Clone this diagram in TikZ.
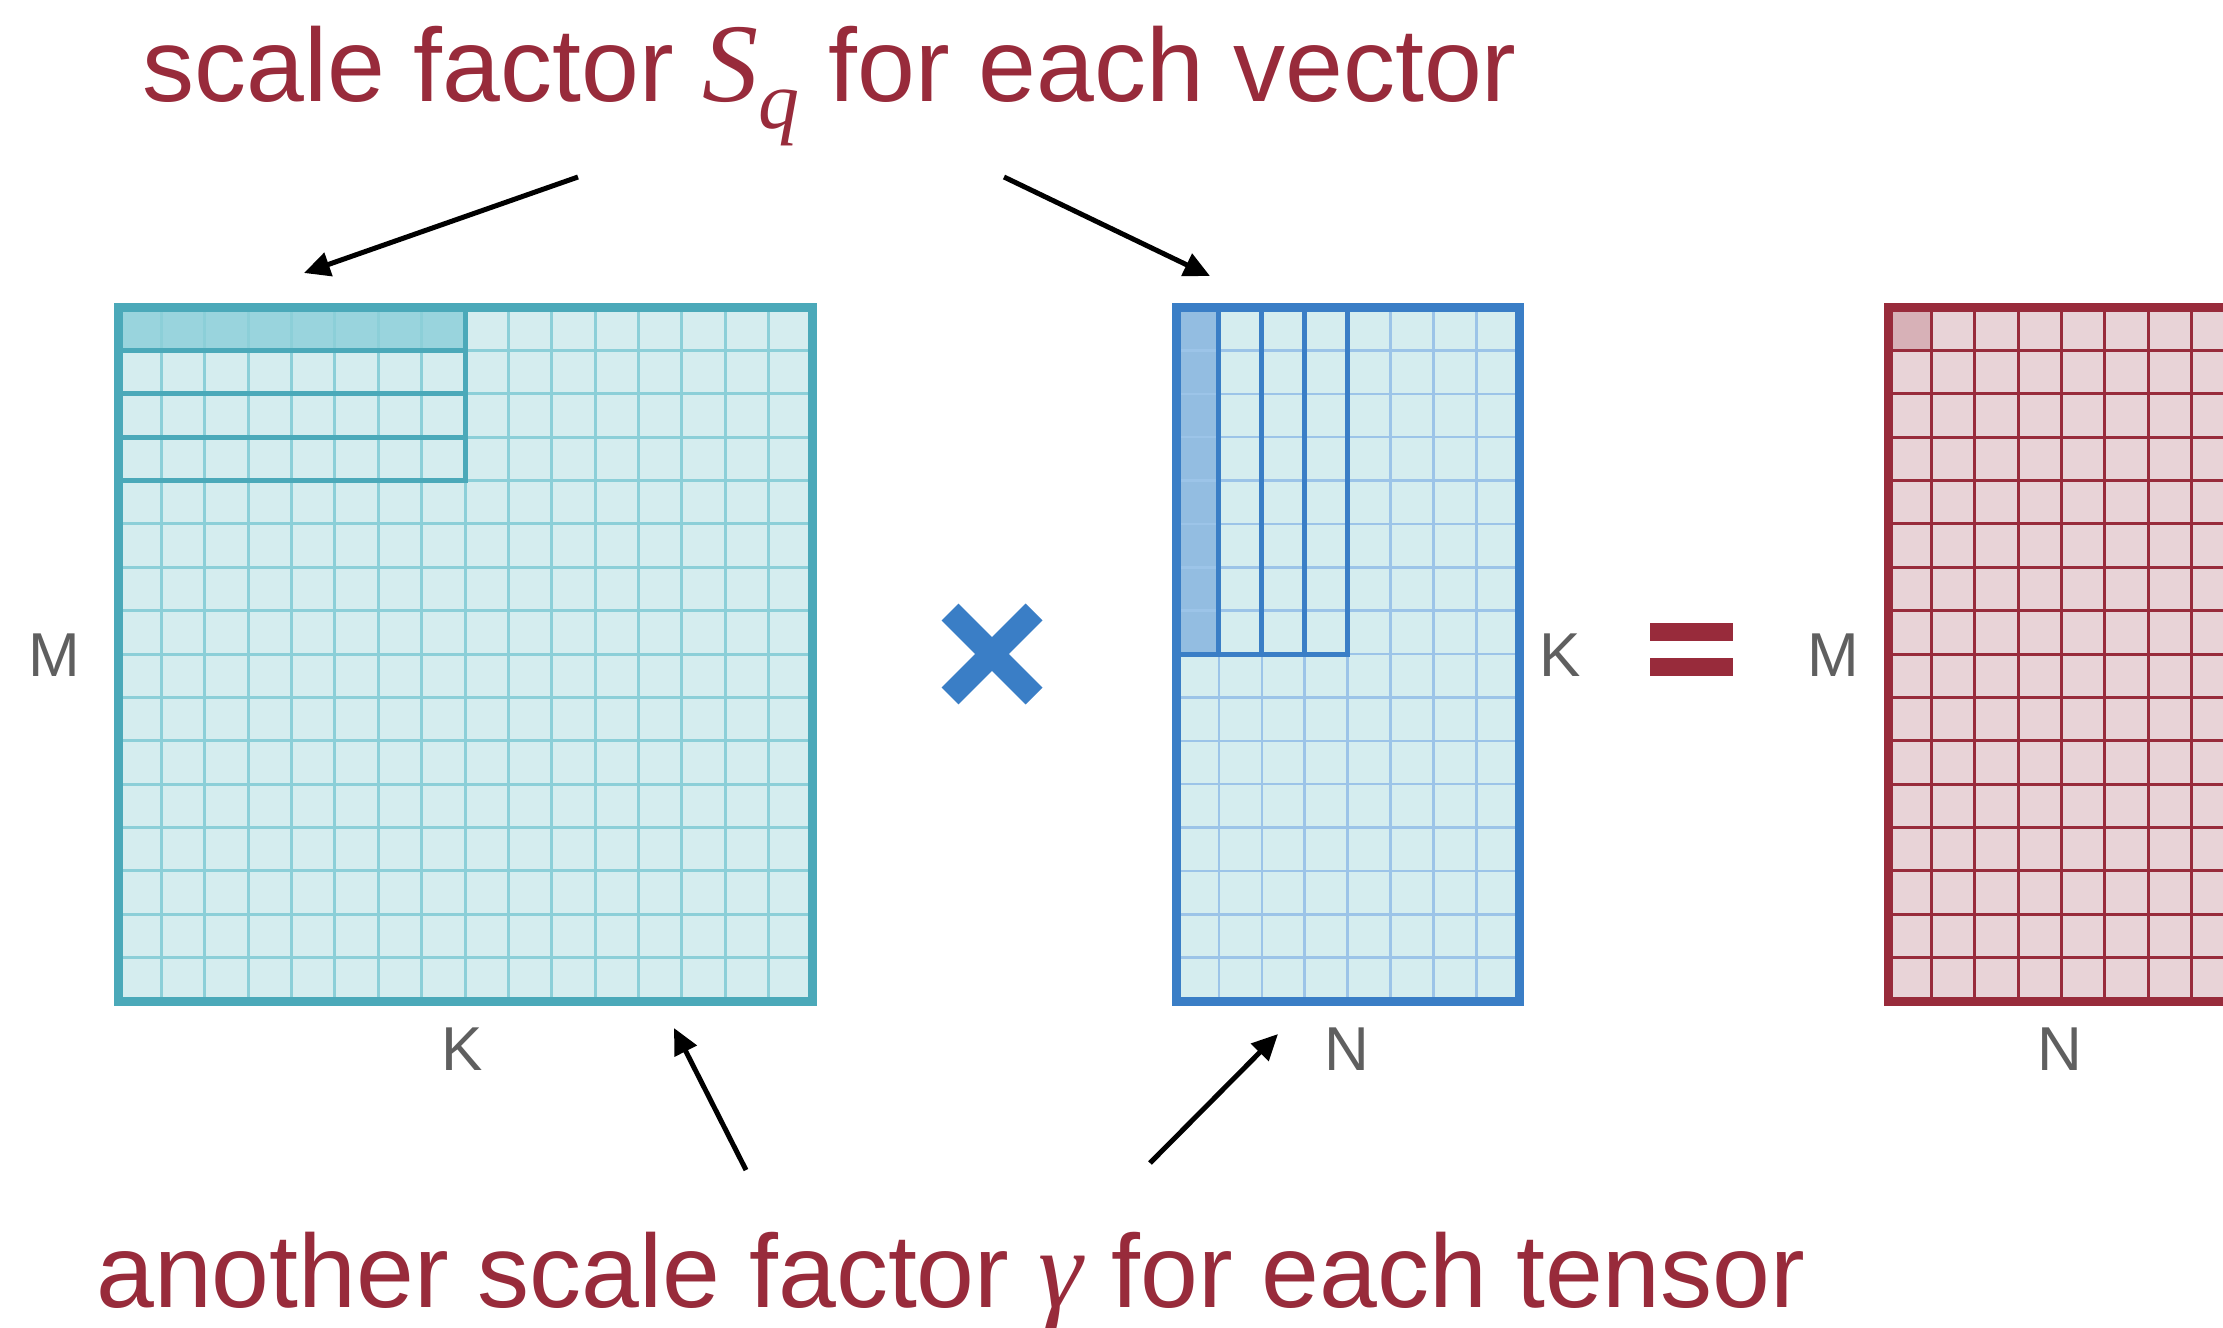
\documentclass[tikz,border=0pt]{standalone}
\usepackage{fontspec}
\setmainfont{Liberation Sans}
\newfontfamily\serifit{Liberation Serif}
\usetikzlibrary{arrows.meta}
\definecolor{tred}{HTML}{982B3B}
\definecolor{tgray}{HTML}{5F5F5F}
\definecolor{tealB}{HTML}{4BA9B9}
\definecolor{tealL}{HTML}{D5EDEF}
\definecolor{tealG}{HTML}{8CCFD8}
\definecolor{tealS}{HTML}{99D4DD}
\definecolor{blueB}{HTML}{3A7EC6}
\definecolor{blueG}{HTML}{9CC4E8}
\definecolor{blueS}{HTML}{93BDE1}
\definecolor{redL}{HTML}{E8D3D7}
\definecolor{redS}{HTML}{D7B1B7}
\tikzset{
  dimlabel/.style={text=tgray, inner sep=0pt, font=\fontsize{62}{62}\selectfont},
  titletext/.style={text=tred, inner sep=0pt, anchor=base west, font=\fontsize{104}{104}\selectfont},
  pointer/.style={line width=5pt, -{Triangle[length=26pt,width=24pt]}},
}
\begin{document}
\begin{tikzpicture}[x=1pt,y=-1pt]
\useasboundingbox (0,0) rectangle (2223,1327);
\clip (0,0) rectangle (2223,1327);
\fill[white] (0,0) rectangle (2223,1327);

% ---- left matrix (M x K) ----
\def\cw{43.375}
\fill[tealL] (118,307) rectangle (812,1001);
\fill[tealS] (118,307) rectangle (118+8*\cw,307+\cw);
\foreach \i in {1,...,15}{
  \draw[tealG,line width=3pt] (118+\i*\cw,307) -- ++(0,694);
  \draw[tealG,line width=3pt] (118,307+\i*\cw) -- ++(694,0);
}
\foreach \j in {0,...,3}{
  \draw[tealB,line width=5pt] (118,307+\j*\cw) rectangle ++(8*\cw,\cw);
}
\draw[tealB,line width=9pt] (118,307) rectangle (812,1001);

% ---- middle matrix (K x N) ----
\def\bw{42.9}
\fill[tealL] (1176,307) rectangle (1176+8*\bw,1001);
\fill[blueS] (1176,307) rectangle (1176+\bw,307+8*\cw);
\foreach \i in {1,...,7}{
  \draw[blueG,line width=2.5pt] (1176+\i*\bw,307) -- (1176+\i*\bw,1001);
}
\foreach \i in {1,...,15}{
  \draw[blueG,line width=2.5pt] (1176,307+\i*\cw) -- ++(8*\bw,0);
}
\foreach \j in {0,...,3}{
  \draw[blueB,line width=5pt] (1176+\j*\bw,307) rectangle ++(\bw,8*\cw);
}
\draw[blueB,line width=9pt] (1176,307) rectangle (1176+8*\bw,1001);

% ---- right matrix (M x N) ----
\fill[redL] (1888,307) rectangle (1888+8*\cw,1001);
\fill[redS] (1888,307) rectangle ++(\cw,\cw);
\foreach \i in {1,...,7}{
  \draw[tred,line width=3pt] (1888+\i*\cw,307) -- (1888+\i*\cw,1001);
}
\foreach \i in {1,...,15}{
  \draw[tred,line width=3pt] (1888,307+\i*\cw) -- ++(8*\cw,0);
}
\draw[tred,line width=9pt] (1888,307) rectangle (1888+8*\cw,1001);

% ---- operators ----
\draw[blueB,line width=24pt] (950,612) -- (1034,696);
\draw[blueB,line width=24pt] (950,696) -- (1034,612);
\fill[tred] (1650,623) rectangle (1733,641);
\fill[tred] (1650,658) rectangle (1733,676);

% ---- dimension labels ----
\node[dimlabel] (lM) at (54,655) {M};
\node[dimlabel] (lK) at (462,1049) {K};
\node[dimlabel] (mK) at (1560,655) {K};
\node[dimlabel] (mN) at (1347,1049) {N};
\node[dimlabel] (rM) at (1833,655) {M};
\node[dimlabel] (rN) at (2060,1049) {N};

% ---- titles ----
\node[titletext] (top) at (142,102) {scale factor {\fontsize{112}{112}\selectfont\serifit\itshape S}\raisebox{-27pt}{\fontsize{82}{82}\selectfont\serifit\itshape q} for each vector};
\node[titletext] (bot) at (96,1307) {another scale factor {\fontsize{112}{112}\selectfont\serifit\itshape\symbol{"03B3}} for each tensor};

% ---- pointers ----
\coordinate (t1s) at (578,177);
\coordinate (t1e) at (304,273);
\coordinate (t2s) at (1004,177);
\coordinate (t2e) at (1210,276);
\coordinate (b1s) at (746,1170);
\coordinate (b1e) at (674,1028);
\coordinate (b2s) at (1150,1163);
\coordinate (b2e) at (1278,1034);
\draw[pointer] (t1s) -- (t1e);
\draw[pointer] (t2s) -- (t2e);
\draw[pointer] (b1s) -- (b1e);
\draw[pointer] (b2s) -- (b2e);
\end{tikzpicture}
\end{document}
